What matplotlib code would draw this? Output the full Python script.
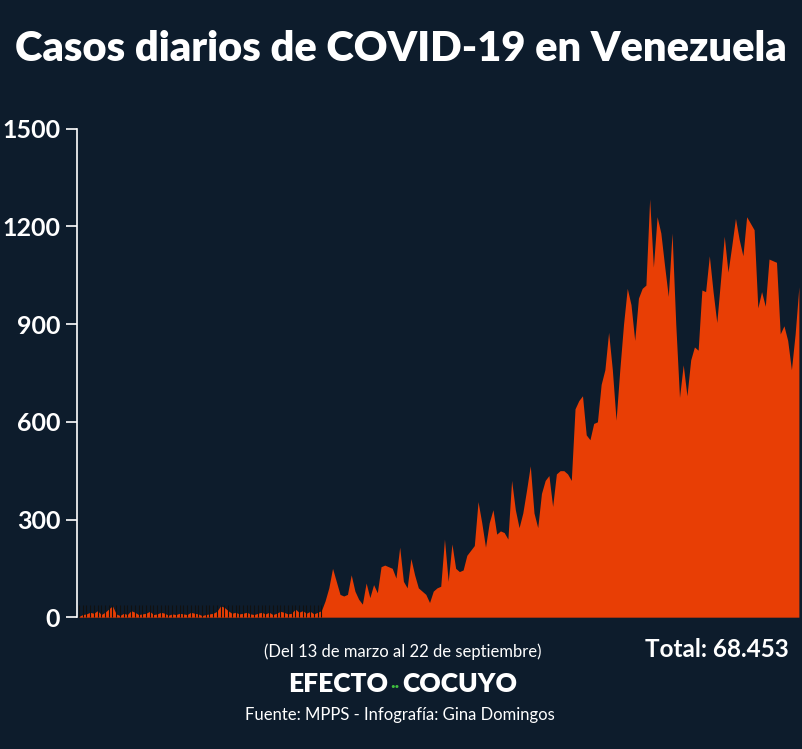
import matplotlib
matplotlib.use("Agg")
import matplotlib.pyplot as plt
import numpy as np

early = [2,8,10,15,12,20,8,15,25,35,10,5,12,8,20,15,8,10,12,18,8,10,15,12,6,10,8,12,10,8,15,12,10,5,8,10,12,18,35,30,20,12,15,10,12,15,10,8,12,15,10,15,8,12,18,15,10,12,25,15,20,12,18,10,15,20]
late = [50,90,150,110,70,65,70,130,80,55,40,105,60,100,75,155,160,155,150,120,215,110,90,180,130,90,80,70,45,80,90,95,240,110,225,150,140,145,190,205,220,355,290,215,290,330,255,265,260,240,420,330,275,320,390,465,320,275,380,420,435,340,440,450,450,440,420,640,665,680,560,545,595,600,715,760,875,760,605,760,900,1010,960,850,980,1010,1020,1285,1075,1230,1180,1080,985,1180,900,675,775,680,790,830,820,1005,1000,1110,1000,905,1035,1170,1060,1140,1225,1160,1110,1230,1210,1190,950,1000,955,1100,1095,1090,870,895,850,760,870,1015]
cases = early + late
days = np.arange(len(cases))
yticks = [0, 300, 600, 900, 1200, 1500]

bg = "#0d1c2c"
orange = "#e83e05"
fam = ["Lato", "DejaVu Sans"]

fig = plt.figure(figsize=(8.02, 7.49), dpi=100, facecolor=bg)
ax = fig.add_axes([0.096, 0.176, 0.9015, 0.652], facecolor=bg)
ax.fill_between(days, cases, 0, color=orange, lw=0)
ax.set_xlim(-0.5, len(cases) - 0.7)
ax.set_ylim(0, 1500)
for s in ["top", "right", "bottom"]:
    ax.spines[s].set_visible(False)
ax.spines["left"].set_color("white")
ax.spines["left"].set_linewidth(1.2)
ax.set_yticks(yticks)
ax.set_yticklabels([str(v) for v in yticks], fontsize=18, fontweight="bold", color="white", family=fam)
ax.tick_params(axis="y", colors="white", length=8, width=1.2, direction="out", pad=4)
ax.set_xticks(days[:len(early)])
ax.set_xticklabels([])
ax.tick_params(axis="x", colors="#111111", length=9, width=0.8, direction="in")
ax.set_axisbelow(False)

fig.text(0.5, 0.935, "Casos diarios de COVID-19 en Venezuela", ha="center", va="center",
         fontsize=30, fontweight="heavy", color="white", family=fam)
fig.text(0.502, 0.13, "(Del 13 de marzo al 22 de septiembre)", ha="center", va="center",
         fontsize=12, color="white", family=fam)
fig.text(0.983, 0.133, "Total: 68.453", ha="right", va="center",
         fontsize=17.5, fontweight="bold", color="white", family=fam)
fig.text(0.484, 0.087, "EFECTO", ha="right", va="center", fontsize=19, fontweight="heavy", color="white", family=fam)
fig.text(0.4925, 0.083, "··", ha="center", va="center", fontsize=12, fontweight="bold", color="#3fbf3f", family=fam)
fig.text(0.502, 0.087, "COCUYO", ha="left", va="center", fontsize=19, fontweight="heavy", color="white", family=fam)
fig.text(0.498, 0.046, "Fuente: MPPS - Infografía: Gina Domingos", ha="center", va="center",
         fontsize=12, color="white", family=fam)
fig.savefig("out.png", dpi=100, facecolor=bg)
